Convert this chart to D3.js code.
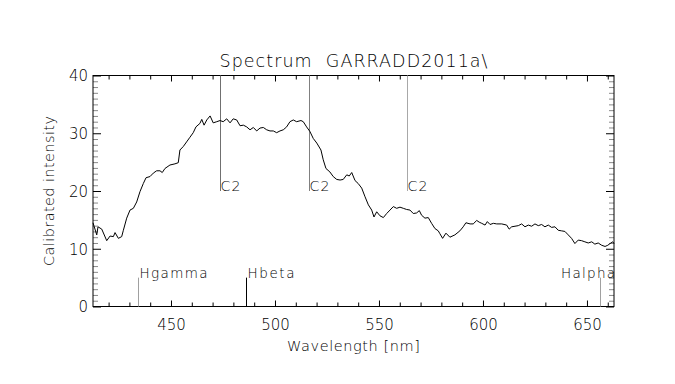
<!DOCTYPE html>
<html>
<head>
<meta charset="utf-8">
<script src="https://cdn.jsdelivr.net/npm/d3@7"></script>
<style>
  html, body { margin: 0; padding: 0; background: #fff; }
  svg { display: block; }
  text { font-family: "DejaVu Sans ExtraLight", "DejaVu Sans", sans-serif; font-weight: 200; fill: #000; }
</style>
</head>
<body>
<svg id="chart" width="675" height="384"></svg>
<script>
// ---- data ----
const wavelength = [
  412.5,414.3,414.9,416.7,419.1,420.7,422.3,423.1,424.7,426.3,427.1,428.7,430.3,431.9,433.5,435.1,436.7,438.0,439.9,441.5,
  443.1,444.7,445.8,447.1,449.5,451.9,453.5,454.3,455.9,457.5,459.1,460.7,462.0,463.9,464.8,465.9,467.2,468.8,470.3,472.0,
  473.6,475.1,476.8,478.4,479.9,481.6,483.2,484.8,486.4,488.0,489.6,491.2,492.8,494.4,496.0,497.6,499.2,500.8,502.4,504.0,
  505.6,507.2,508.8,510.4,512.5,513.6,515.2,516.8,518.4,520.1,522.1,523.2,524.5,526.4,528.0,529.7,531.3,532.8,534.5,535.7,
  536.9,538.5,540.0,541.7,543.3,544.9,546.5,547.6,548.9,550.5,552.1,553.7,555.3,556.9,558.5,560.1,561.7,563.3,564.9,566.5,
  568.1,569.4,570.5,572.1,573.7,575.3,576.9,578.5,579.3,580.6,582.2,584.1,586.5,588.9,590.5,591.8,593.8,595.3,597.0,598.2,
  599.4,601.0,602.1,603.4,605.0,606.6,609.0,611.4,612.6,613.8,615.4,617.0,618.6,620.2,621.8,623.4,625.0,626.6,628.2,629.8,
  631.4,633.0,634.6,636.2,637.8,639.4,641.0,642.6,644.2,645.8,647.4,649.0,650.6,652.3,653.8,655.4,657.1,658.7,660.0,661.1,
  662.4,663.0
];
const intensity = [
  14.5,12.4,13.8,13.4,11.4,12.2,12.1,12.8,11.8,12.1,13.2,15.3,16.7,17.0,18.1,19.9,21.3,22.3,22.5,23.1,
  23.5,23.5,23.2,23.9,24.5,24.7,24.9,27.1,27.7,28.5,29.3,30.1,31.1,31.7,32.4,31.4,32.3,33.0,31.8,32.0,
  32.2,32.0,32.5,31.8,32.5,32.3,31.3,31.4,31.1,30.6,31.0,30.4,30.9,31.0,30.6,30.4,30.4,30.1,30.4,30.6,
  31.1,32.0,32.3,32.0,32.2,32.0,31.1,30.3,29.1,28.3,27.1,25.4,23.9,23.3,22.5,22.0,21.9,22.0,22.8,22.6,
  23.2,21.8,21.3,20.5,19.0,17.6,16.7,15.5,16.4,15.7,15.4,16.1,16.7,17.3,17.0,17.2,17.0,16.8,16.7,16.1,
  16.2,16.6,15.8,15.3,15.4,14.4,13.5,13.1,12.6,11.8,12.7,12.0,12.4,13.1,13.8,14.5,14.3,14.3,14.9,14.6,
  14.4,14.1,14.7,14.2,14.4,14.3,14.3,14.1,13.4,13.8,13.9,14.0,14.3,13.8,14.1,13.9,14.3,14.0,14.2,13.8,
  14.1,13.7,13.8,13.2,13.1,13.0,12.4,11.8,10.9,11.5,11.4,11.2,11.0,11.2,10.8,11.0,10.6,10.4,10.6,10.9,
  11.2,10.9
];
const xMajorTicks = [450, 500, 550, 600, 650];
const yMajorTicks = [0, 10, 20, 30, 40];
// C2 Swan band heads (top markers) and Balmer lines (bottom markers)
const c2Names = ["C2", "C2", "C2"];
const c2Wavelengths = [473.7, 516.5, 563.5];
const balmerNames = ["Hgamma", "Hbeta", "Halpha"];
const balmerWavelengths = [434.0, 486.1, 656.3];
const xDomain = [412.5, 663.0];
const yDomain = [0, 40];
const titleText = "Spectrum  GARRADD2011a\\";
const xLabelText = "Wavelength [nm]";
const yLabelText = "Calibrated intensity";

// ---- layout / style ----
const L = 93, R = 614, T = 75.5, B = 306.5;
const c2Colors = ["#707070", "#808080", "#a8a8a8"];
const balmerColors = ["#a0a0a0", "#000000", "#a0a0a0"];
const FONT = "'DejaVu Sans ExtraLight', 'DejaVu Sans', sans-serif";

const svg = d3.select("#chart");
const x = d3.scaleLinear().domain(xDomain).range([L, R]);
const y = d3.scaleLinear().domain(yDomain).range([B, T]);

const xMinor = d3.range(420, 663, 10).filter(v => !xMajorTicks.includes(v));
const yMinor = d3.range(1, 40, 1).filter(v => v % 10 !== 0);

function styleAxis(g, color) {
  g.select(".domain").remove();
  g.selectAll(".tick line").attr("stroke", color).attr("stroke-width", 1);
}
function styleLabels(sel, size) {
  sel.attr("font-size", size).style("font-family", FONT).style("font-weight", 200).attr("fill", "#000");
}

// bottom
svg.append("g").attr("transform", `translate(0,${B})`)
  .call(d3.axisBottom(x).tickValues(xMinor).tickSize(-4).tickFormat(""))
  .call(g => styleAxis(g, "#000"));
const bx = svg.append("g").attr("transform", `translate(0,${B})`)
  .call(d3.axisBottom(x).tickValues(xMajorTicks).tickSize(-6).tickFormat(d3.format("d")))
  .call(g => styleAxis(g, "#000"));
bx.selectAll(".tick text").attr("y", 23.5).attr("dy", 0).call(s => styleLabels(s, 15));

// top
svg.append("g").attr("transform", `translate(0,${T})`)
  .call(d3.axisTop(x).tickValues(xMinor).tickSize(-4).tickFormat(""))
  .call(g => styleAxis(g, "#000"));
svg.append("g").attr("transform", `translate(0,${T})`)
  .call(d3.axisTop(x).tickValues(xMajorTicks).tickSize(-6).tickFormat(""))
  .call(g => styleAxis(g, "#000"));

// left
svg.append("g").attr("transform", `translate(${L},0)`)
  .call(d3.axisLeft(y).tickValues(yMinor).tickSize(-5).tickFormat(""))
  .call(g => styleAxis(g, "#8a8a8a"));
const ly = svg.append("g").attr("transform", `translate(${L},0)`)
  .call(d3.axisLeft(y).tickValues(yMajorTicks).tickSize(-8).tickPadding(5).tickFormat(d3.format("d")))
  .call(g => styleAxis(g, "#000"));
ly.selectAll(".tick text").attr("dy", "0.36em").call(s => styleLabels(s, 15));

// right
svg.append("g").attr("transform", `translate(${R},0)`)
  .call(d3.axisRight(y).tickValues(yMinor).tickSize(-5).tickFormat(""))
  .call(g => styleAxis(g, "#8a8a8a"));
svg.append("g").attr("transform", `translate(${R},0)`)
  .call(d3.axisRight(y).tickValues(yMajorTicks).tickSize(-8).tickFormat(""))
  .call(g => styleAxis(g, "#000"));

// frame
svg.append("rect").attr("x", L).attr("y", T).attr("width", R - L).attr("height", B - T)
  .attr("fill", "none").attr("stroke", "#000").attr("stroke-width", 1);

// C2 markers
c2Wavelengths.forEach((w, i) => {
  const px = Math.round(x(w)) + 0.5;
  svg.append("line").attr("x1", px).attr("x2", px).attr("y1", y(40)).attr("y2", y(20))
    .attr("stroke", c2Colors[i]).attr("stroke-width", 1);
  svg.append("text").attr("x", px).attr("y", y(20)).attr("font-size", 14)
    .attr("textLength", 20).attr("lengthAdjust", "spacing").text(c2Names[i]);
});

// Balmer markers
const balmerWidths = [68, 47, 54];
balmerWavelengths.forEach((w, i) => {
  const px = Math.round(x(w)) + 0.5;
  svg.append("line").attr("x1", px).attr("x2", px).attr("y1", y(0)).attr("y2", y(5))
    .attr("stroke", balmerColors[i]).attr("stroke-width", 1);
  const t = svg.append("text").attr("y", y(5)).attr("font-size", 13.5)
    .attr("textLength", balmerWidths[i]).attr("lengthAdjust", "spacing").text(balmerNames[i]);
  if (px + balmerWidths[i] > R) {
    t.attr("x", R + 1).attr("text-anchor", "end");
  } else {
    t.attr("x", px + 1);
  }
});

// spectrum
const line = d3.line().x((d, i) => x(wavelength[i])).y(d => y(d)).curve(d3.curveLinear);
svg.append("path").datum(intensity).attr("d", line)
  .attr("fill", "none").attr("stroke", "#000").attr("stroke-width", 1).attr("stroke-linejoin", "round");

// title & axis labels
svg.append("text").attr("x", (L + R) / 2).attr("y", 67).attr("text-anchor", "middle")
  .attr("font-size", 17.5).attr("textLength", 268).attr("lengthAdjust", "spacing")
  .style("white-space", "pre").text(titleText);
svg.append("text").attr("x", (L + R) / 2).attr("y", 351).attr("text-anchor", "middle")
  .attr("font-size", 14.5).attr("textLength", 133).attr("lengthAdjust", "spacing")
  .text(xLabelText);
svg.append("text").attr("transform", `translate(54,${(T + B) / 2}) rotate(-90)`)
  .attr("text-anchor", "middle").attr("font-size", 14.5)
  .attr("textLength", 150).attr("lengthAdjust", "spacing").text(yLabelText);
</script>
</body>
</html>
